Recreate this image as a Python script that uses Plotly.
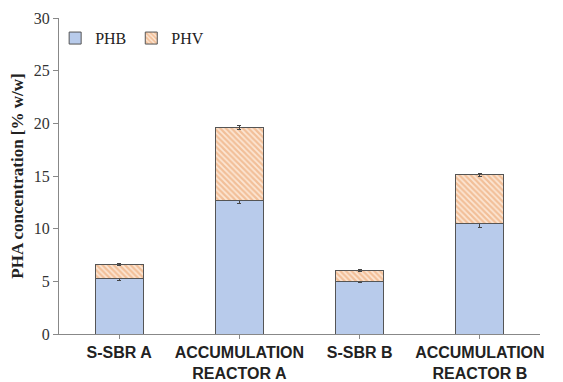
import plotly.graph_objects as go

categories = ["S-SBR A", "ACCUMULATION<br>REACTOR A", "S-SBR B", "ACCUMULATION<br>REACTOR B"]
phb = [5.3, 12.7, 5.0, 10.5]
phb_err = [0.25, 0.3, 0.15, 0.35]
phv = [1.3, 6.9, 1.0, 4.6]
phv_err = [0.1, 0.15, 0.1, 0.15]

fig = go.Figure()
fig.add_trace(go.Bar(
    x=categories, y=phb, name="PHB",
    marker=dict(color="#B8CBEB", line=dict(color="#555555", width=1)),
    error_y=dict(type="data", array=phb_err, color="#444444", thickness=1, width=2),
))
fig.add_trace(go.Bar(
    x=categories, y=phv, name="PHV",
    marker=dict(color="white", line=dict(color="#555555", width=1),
                pattern=dict(shape="\\", fgcolor="#E8985C", bgcolor="#FCE6D4", size=4, solidity=0.55)),
    error_y=dict(type="data", array=phv_err, color="#444444", thickness=1, width=2),
))

fig.update_layout(
    barmode="stack", bargap=0.6,
    width=563, height=382,
    margin=dict(l=51, r=31, t=10, b=56),
    plot_bgcolor="white", paper_bgcolor="white",
    showlegend=True,
    legend=dict(orientation="h", x=-0.008, y=0.99, xanchor="left", yanchor="top",
                font=dict(family="Liberation Serif", size=16, color="#222222"),
                bgcolor="rgba(0,0,0,0)", itemwidth=30, traceorder="normal", tracegroupgap=0),
    font=dict(family="Liberation Serif", color="#222222"),
)
fig.update_yaxes(
    range=[0, 30], dtick=5, showgrid=False, zeroline=False, automargin=False,
    showline=True, linecolor="#888888", linewidth=1,
    ticks="outside", ticklen=5, tickcolor="#888888",
    tickfont=dict(family="Liberation Serif", size=16, color="#333333"),
    title=dict(text="<b>PHA concentration [% w/w]</b>",
               font=dict(family="Liberation Serif", size=17, color="#222222"), standoff=10),
)
fig.update_xaxes(
    showgrid=False, showline=True, linecolor="#888888", linewidth=1, automargin=False,
    ticks="outside", ticklen=4, tickcolor="#888888", ticklabelstandoff=0,
    tickfont=dict(family="Liberation Sans", size=16, color="#222222"),
)
fig.update_xaxes(tickvals=categories, ticktext=["<b>" + c.replace("<br>", "</b><br><b>") + "</b>" for c in categories])

fig.write_html("out.html")
